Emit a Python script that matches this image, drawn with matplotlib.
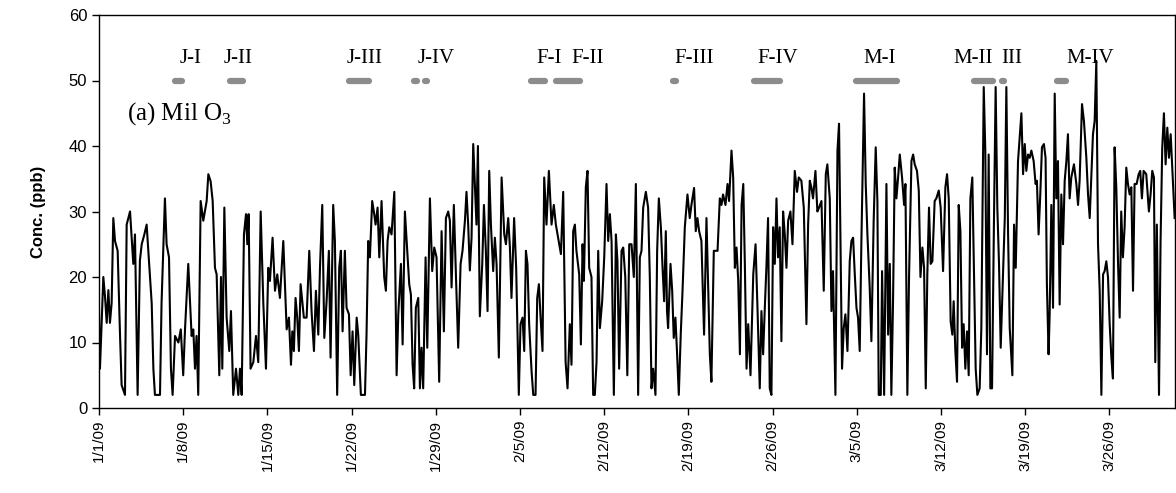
import matplotlib
matplotlib.use("Agg")
import matplotlib.pyplot as plt
import numpy as np

# Hourly O3 at Mil, 1 Jan - 31 Mar 2009 (days since 1/1/09, ppb)
days = [
    0.0, 0.08, 0.36, 0.5, 0.64, 0.78, 0.91, 1.05, 1.19, 1.33, 1.55, 1.75, 1.88, 2.16, 2.3, 2.58, 2.85, 2.99,
    3.21, 3.4, 3.55, 3.77, 3.96, 4.1, 4.38, 4.52, 4.65, 5.07, 5.2, 5.48, 5.62, 5.82, 5.98, 6.12, 6.32, 6.6,
    6.8, 7.0, 7.15, 7.42, 7.7, 7.84, 7.98, 8.11, 8.25, 8.45, 8.67, 8.95, 9.09, 9.28, 9.45, 9.64, 9.78, 10.0,
    10.14, 10.25, 10.42, 10.61, 10.83, 10.97, 11.16, 11.39, 11.58, 11.72, 11.86, 12.05, 12.22, 12.33, 12.44,
    12.6, 12.83, 13.05, 13.24, 13.44, 13.66, 13.88, 14.07, 14.21, 14.43, 14.63, 14.82, 15.04, 15.32, 15.6,
    15.79, 15.96, 16.07, 16.2, 16.34, 16.48, 16.62, 16.76, 16.9, 17.03, 17.26, 17.48, 17.67, 17.87, 18.03,
    18.23, 18.37, 18.56, 18.73, 18.92, 19.11, 19.25, 19.47, 19.61, 19.8, 19.97, 20.11, 20.25, 20.44, 20.58,
    20.78, 20.92, 21.08, 21.22, 21.42, 21.55, 21.77, 22.11, 22.24, 22.38, 22.52, 22.71, 22.88, 22.99, 23.16,
    23.3, 23.49, 23.71, 23.85, 23.99, 24.13, 24.32, 24.55, 24.74, 24.88, 25.1, 25.24, 25.43, 25.62, 25.79,
    25.93, 26.07, 26.2, 26.34, 26.54, 26.68, 26.81, 26.95, 27.15, 27.29, 27.51, 27.7, 27.87, 28.06, 28.28,
    28.48, 28.67, 28.84, 29.03, 29.17, 29.31, 29.5, 29.67, 29.86, 30.06, 30.22, 30.42, 30.55, 30.69, 30.83,
    30.97, 31.11, 31.25, 31.38, 31.5, 31.66, 31.86, 32.0, 32.16, 32.3, 32.44, 32.58, 32.77, 32.91, 33.05,
    33.24, 33.47, 33.69, 33.83, 34.02, 34.16, 34.29, 34.51, 34.68, 34.9, 35.04, 35.21, 35.35, 35.49, 35.62,
    35.76, 35.96, 36.1, 36.29, 36.43, 36.57, 36.71, 36.87, 37.01, 37.2, 37.4, 37.62, 37.81, 37.98, 38.17,
    38.4, 38.59, 38.79, 38.95, 39.14, 39.28, 39.42, 39.56, 39.69, 39.92, 40.06, 40.2, 40.31, 40.47, 40.61,
    40.75, 40.94, 41.08, 41.22, 41.36, 41.5, 41.64, 41.83, 42.0, 42.19, 42.33, 42.47, 42.61, 42.8, 42.97,
    43.1, 43.24, 43.44, 43.58, 43.75, 43.92, 44.08, 44.27, 44.46, 44.63, 44.82, 44.96, 45.1, 45.24, 45.46,
    45.65, 45.79, 45.93, 46.07, 46.26, 46.4, 46.54, 46.71, 46.85, 46.98, 47.12, 47.22, 47.31, 47.51, 47.65,
    47.78, 47.92, 48.06, 48.2, 48.36, 48.51, 48.7, 48.92, 49.11, 49.25, 49.47, 49.61, 49.75, 49.89, 50.08,
    50.3, 50.5, 50.64, 50.78, 50.91, 51.11, 51.25, 51.42, 51.61, 51.75, 51.88, 52.08, 52.25, 52.38, 52.58,
    52.72, 52.86, 53.0, 53.14, 53.28, 53.42, 53.56, 53.69, 53.83, 53.97, 54.16, 54.39, 54.58, 54.74, 54.93,
    55.07, 55.21, 55.35, 55.48, 55.62, 55.76, 55.9, 56.04, 56.18, 56.32, 56.45, 56.59, 56.73, 56.87, 57.01,
    57.15, 57.29, 57.48, 57.65, 57.84, 58.03, 58.17, 58.39, 58.59, 58.81, 58.95, 59.09, 59.22, 59.36, 59.56,
    59.72, 59.86, 60.06, 60.25, 60.42, 60.55, 60.75, 60.89, 61.02, 61.22, 61.39, 61.52, 61.63, 61.77, 61.91,
    62.05, 62.22, 62.41, 62.55, 62.69, 62.83, 62.97, 63.1, 63.24, 63.38, 63.6, 63.74, 63.88, 64.07, 64.21,
    64.4, 64.57, 64.71, 64.82, 64.99, 65.1, 65.27, 65.46, 65.6, 65.74, 65.87, 66.01, 66.15, 66.29, 66.43,
    66.57, 66.76, 66.93, 67.04, 67.2, 67.34, 67.54, 67.68, 67.81, 68.0, 68.15, 68.29, 68.45, 68.59, 68.73,
    68.86, 69.0, 69.14, 69.28, 69.47, 69.61, 69.81, 69.97, 70.17, 70.36, 70.5, 70.64, 70.8, 70.94, 71.05,
    71.19, 71.33, 71.47, 71.61, 71.75, 71.88, 72.02, 72.16, 72.3, 72.44, 72.6, 72.74, 72.88, 73.02, 73.21,
    73.35, 73.55, 73.68, 73.82, 73.96, 74.1, 74.24, 74.4, 74.54, 74.68, 74.82, 74.96, 75.16, 75.3, 75.43,
    75.57, 75.71, 75.93, 76.07, 76.21, 76.4, 76.54, 76.68, 76.82, 76.96, 77.09, 77.23, 77.37, 77.51, 77.7,
    77.86, 77.97, 78.11, 78.25, 78.39, 78.55, 78.69, 78.8, 78.94, 79.03, 79.17, 79.31, 79.45, 79.58, 79.72,
    79.86, 80.0, 80.14, 80.28, 80.42, 80.55, 80.69, 80.83, 81.05, 81.25, 81.39, 81.52, 81.72, 81.88, 82.08,
    82.22, 82.36, 82.49, 82.63, 82.77, 82.91, 83.05, 83.19, 83.33, 83.47, 83.6, 83.74, 83.88, 84.02, 84.16,
    84.29, 84.43, 84.57, 84.71, 84.85, 84.98, 85.12, 85.26, 85.4, 85.54, 85.68, 85.82, 85.96, 86.09, 86.26,
    86.43, 86.56, 86.7, 86.84, 87.06, 87.28, 87.42, 87.56, 87.7, 87.81, 87.94, 88.12, 88.25, 88.39, 88.53,
    88.67, 88.81, 88.95, 89.09, 89.22, 89.42,
]
o3 = [
    15, 6, 20, 17, 13, 18, 13, 16, 29, 25.5, 24, 11, 3.5, 2, 28, 30, 22, 26.5,
    2, 22.5, 25, 26.5, 28, 24, 16, 6, 2, 2, 16, 32, 25, 23, 6, 2, 11, 10,
    12, 5, 12, 22, 11, 12, 6, 11, 2, 31.6, 28.6, 31.6, 35.7, 34.6, 31.6, 21.4, 20.4, 5,
    20, 6, 30.6, 13.8, 8.7, 14.8, 2, 6, 2, 6, 2, 26.5, 29.6, 25, 29.6,
    6, 7, 11, 7, 30, 16, 6, 21.4, 19.4, 26, 17.9, 20.4, 16.8, 25.5, 12,
    13.8, 6.6, 11.7, 8.7, 16.8, 13.8, 8.7, 18.9, 16.3, 13.8, 13.8, 24, 14.8, 8.7, 17.9,
    11.2, 21.4, 31, 10.7, 16.3, 24, 7.7, 31, 25.5, 2, 21.4, 24, 11.7, 24, 15.3,
    14.3, 5, 11.7, 3.5, 13.8, 11.2, 2, 2, 11.2, 25.5, 23, 31.6, 29.6, 28, 30.6,
    23, 31.6, 20, 17.9, 25.5, 27.6, 26.5, 33, 5, 14.3, 22, 9.7, 30, 24, 18.9,
    17.3, 6.6, 3, 15.3, 16.8, 3, 9.2, 3, 23, 9.2, 32, 20.9, 24.5, 23, 4,
    27, 11.7, 29, 30, 28.6, 18.4, 31, 20.4, 9.2, 22, 24, 28.6, 33, 28, 21,
    26, 40.3, 34, 28, 40, 14, 22, 31, 24, 14.8, 36.2, 28, 20.9, 26, 22,
    7.7, 35.2, 26.5, 25, 29, 24.5, 16.8, 29, 21.4, 2, 12.8, 13.8, 8.7, 24, 22,
    12.8, 5.6, 2, 2, 16.8, 18.9, 13.8, 8.7, 35.2, 28, 36.2, 28, 31, 28, 26,
    23.5, 33, 7, 3, 12.8, 6.6, 27, 28, 24, 20.4, 9.7, 25, 19.4, 33.7, 36.2,
    21.4, 20, 2, 2, 7, 24, 12.2, 16.3, 23, 34.2, 25.5, 29.6, 25.5, 2, 26.5,
    22.4, 6, 24, 24.5, 20, 5, 25, 25, 20, 34.2, 2, 23, 24, 30.6, 33,
    30.6, 20, 3, 6, 2, 24, 32, 27.6, 21.4, 16.3, 27, 14.8, 12.2, 22, 17.9,
    10.7, 13.8, 8.2, 2, 11.2, 17.9, 27.6, 32.6, 29, 31, 33.6, 27, 29, 27, 25.5,
    11.2, 29, 18.9, 8.2, 4, 24, 24, 24, 32, 31, 32.6, 31, 34.2, 31.6, 39.3,
    35.2, 21.4, 24.5, 19.4, 8.2, 31, 34.2, 22, 6, 12.8, 5, 20.4, 25, 15.3, 3,
    14.8, 8.2, 15.3, 21.4, 29, 3, 2, 27.6, 22, 32, 23, 27.6, 10.2, 30, 26.5,
    21.4, 28.6, 30, 25, 36.2, 33, 35.2, 34.7, 30.6, 12.8, 28, 34.7, 33.7, 32, 36.2,
    30, 30.6, 31.6, 17.9, 35.7, 37.2, 32, 14.8, 20.9, 2, 39.3, 43.4, 26.5, 6, 12.2,
    14.3, 8.7, 22.4, 25.5, 26, 20.4, 15.3, 13.8, 8.7, 25.5, 48, 34.2, 26.5, 18.4, 10.2,
    28.6, 39.8, 31.6, 2, 2, 20.9, 2, 34.2, 11.2, 22, 2, 16.3, 36.7, 32, 35.2,
    38.7, 35.2, 31, 34.2, 2, 20, 37.7, 38.7, 37.2, 36.2, 33.2, 20, 24.5, 21.4, 3,
    20.4, 30.6, 22, 22.4, 31.6, 32, 33.2, 30.6, 20.9, 33.7, 35.7, 32, 13.2, 11.2, 16.3,
    8.7, 4, 31, 27, 9.2, 12.8, 6, 11.7, 5, 32, 35.2, 20.4, 6, 2, 3,
    12.2, 49, 39.3, 8.2, 38.7, 3, 3, 28.6, 49, 30.6, 22, 9.2, 20.9, 29, 49,
    27, 12.2, 5, 28, 21.4, 37.7, 41.3, 45, 35.7, 40.3, 36.2, 38.7, 38.2, 39.3, 37.7,
    34.2, 34.7, 26.5, 32.6, 39.8, 40.3, 38.2, 18.9, 8.2, 14.3, 31, 15.3, 48, 32, 37.7,
    15.8, 32.6, 25, 34.7, 37.7, 41.8, 32, 35.2, 37.2, 34.2, 31, 34.7, 46.4, 43.8, 38.2,
    32.6, 29, 35.2, 41.8, 43.8, 53, 25, 17.9, 2, 20.4, 20.9, 22.4, 20, 12.8, 7.7,
    4.5, 39.8, 33.7, 22.4, 13.8, 30, 23, 27.6, 36.7, 34.2, 32.6, 33.7, 17.9, 34.2, 34.2,
    35.7, 36.2, 32, 36.2, 35.7, 30, 32.6, 36.2, 35.2, 7, 28, 2, 25.5, 39.8, 45,
    37.2, 42.8, 38.2, 41.8, 36.7, 29,
]

# Sampling periods (start/end in days since 1/1/09) and their labels
period_names = ["J-I", "J-II", "J-III", "J-IV", "F-I", "F-II", "F-III", "F-IV", "M-I", "M-II", "III", "M-IV"]
period_label_x = [7.65, 11.55, 22.1, 28.0, 37.4, 40.65, 49.5, 56.4, 64.9, 72.7, 75.9, 82.4]
period_start = [6.3, 10.85, 20.75, 26.2, 35.95, 37.95, 47.75, 54.45, 62.95, 72.75, 75.05, 79.65]
period_end = [6.9, 11.95, 22.45, 26.4, 37.05, 39.95, 47.95, 56.65, 66.35, 74.35, 75.25, 80.35]
extra_start = [27.1]   # J-IV was sampled in two short blocks
extra_end = [27.3]

tick_days = [0, 7, 14, 21, 28, 35, 42, 49, 56, 63, 70, 77, 84]
tick_labels = ["1/1/09", "1/8/09", "1/15/09", "1/22/09", "1/29/09", "2/5/09", "2/12/09",
               "2/19/09", "2/26/09", "3/5/09", "3/12/09", "3/19/09", "3/26/09"]

plt.rcParams["font.family"] = ["Liberation Sans", "DejaVu Sans"]
plt.rcParams["mathtext.fontset"] = "custom"
plt.rcParams["mathtext.rm"] = "Liberation Serif"
serif = ["Liberation Serif", "DejaVu Serif"]

fig = plt.figure(figsize=(11.76, 4.93), dpi=100)
ax = fig.add_axes([99 / 1176, 85 / 493, 1076 / 1176, 393 / 493])

ax.plot(days, o3, color="black", lw=1.5, zorder=3)

bar_color = "#8c8c8c"
for s, e in zip(period_start + extra_start, period_end + extra_end):
    ax.plot([s, e], [50, 50], color=bar_color, lw=4.5, solid_capstyle="round", zorder=2)
for name, x in zip(period_names, period_label_x):
    ax.text(x, 53.4, name, ha="center", va="center", fontsize=15, family=serif)

ax.text(2.3, 45.0, "(a) Mil O$_3$", ha="left", va="center", fontsize=18, family=serif)

ax.set_xlim(0, 89.45)
ax.set_ylim(0, 60)
ax.set_yticks(np.arange(0, 61, 10))
ax.set_xticks(tick_days)
ax.set_xticklabels(tick_labels, rotation=90)
ax.tick_params(axis="both", direction="out", length=5, width=1, labelsize=12, color="black")
ax.tick_params(axis="x", labelsize=11)
for sp in ax.spines.values():
    sp.set_linewidth(1)
    sp.set_color("black")

ax.set_ylabel("Conc. (ppb)", fontsize=12, fontweight="bold", labelpad=16)

fig.savefig("out.png", dpi=100)
